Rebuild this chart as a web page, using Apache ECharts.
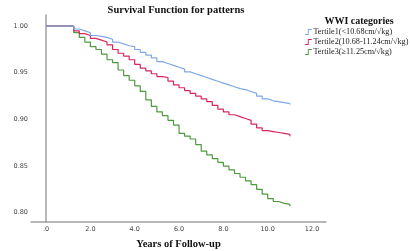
<!DOCTYPE html>
<html><head><meta charset="utf-8">
<script src="https://cdn.jsdelivr.net/npm/echarts@6/dist/echarts.min.js"></script>
<style>html,body{margin:0;padding:0;background:#fff}#c{width:410px;height:251px}</style>
</head><body><div id="c"></div>
<script>
const years = [0,1.00,1.25,1.5,1.75,2.0,2.25,2.5,2.75,3.0,3.25,3.5,3.75,4.0,4.25,4.5,4.75,5.0,5.25,5.5,5.75,6.0,6.25,6.5,6.75,7.0,7.25,7.5,7.75,8.0,8.25,8.5,8.75,9.0,9.25,9.5,9.75,10.0,10.25,10.5,10.75,11.0];
const tertile1 = [1.000,1.000,0.997,0.995,0.993,0.990,0.989,0.988,0.986,0.983,0.981,0.979,0.978,0.975,0.972,0.969,0.966,0.962,0.960,0.958,0.956,0.954,0.951,0.949,0.947,0.945,0.943,0.941,0.939,0.937,0.935,0.933,0.932,0.930,0.928,0.925,0.922,0.920,0.919,0.918,0.917,0.916];
const tertile2 = [1.000,1.000,0.995,0.992,0.990,0.987,0.985,0.983,0.980,0.975,0.971,0.968,0.964,0.959,0.955,0.952,0.949,0.946,0.945,0.941,0.937,0.934,0.931,0.928,0.925,0.922,0.919,0.915,0.911,0.908,0.905,0.903,0.901,0.899,0.895,0.891,0.888,0.887,0.886,0.885,0.884,0.882];
const tertile3 = [1.000,1.000,0.993,0.988,0.983,0.978,0.975,0.970,0.964,0.961,0.953,0.947,0.942,0.936,0.930,0.921,0.914,0.908,0.904,0.899,0.894,0.885,0.882,0.879,0.873,0.866,0.862,0.858,0.854,0.850,0.846,0.842,0.838,0.834,0.830,0.825,0.820,0.815,0.812,0.810,0.809,0.807];
const seriesNames = ['Tertile1(<10.68cm/√kg)','Tertile2(10.68-11.24cm/√kg)','Tertile3(≥11.25cm/√kg)'];
const colors = ['#7eaae3','#d8265c','#4e9a3e'];
const xTicks = [0,2,4,6,8,10,12];
const yTicks = [0.80,0.85,0.90,0.95,1.00];

const chart = echarts.init(document.getElementById('c'), null, {renderer:'canvas'});
const values = [tertile1, tertile2, tertile3];
const stepIcon = 'path://M0,9 L5,9 L5,0 L12,0 L12,1.6 L6.6,1.6 L6.6,10.6 L0,10.6 Z';
chart.setOption({
  animation:false,
  title:[{text:'Survival Function for patterns', left:171, top:0, textAlign:'center',
    textStyle:{fontFamily:'Liberation Serif', fontWeight:'bold', fontSize:10.5, color:'#111'}},
    {text:'WWI categories', left:354, top:11, textAlign:'center',
    textStyle:{fontFamily:'Liberation Serif', fontWeight:'bold', fontSize:10, color:'#111'}}],
  legend:{orient:'vertical', left:305, top:28, itemGap:2, itemWidth:8, itemHeight:6, padding:0,
    icon: stepIcon, data: seriesNames.map((n,i)=>({name:n, icon:stepIcon, itemStyle:{color:colors[i]}})),
    textStyle:{fontFamily:'Liberation Serif', fontSize:8.2, color:'#222', padding:[0,0,0,-4]}},
  grid:{left:31, right:84, top:15, bottom:29, containLabel:false, outerBoundsMode:'none'},
  xAxis:{type:'value', min:-0.68, max:12.63,
    name:'Years of Follow-up', nameLocation:'middle', nameGap:17,
    nameTextStyle:{fontFamily:'Liberation Serif', fontWeight:'bold', fontSize:10.5, color:'#111'},
    axisLine:{lineStyle:{color:'#a0a0a0', width:1.5}},
    axisTick:{show:false}, splitLine:{show:false},
    axisLabel:{customValues:xTicks, fontSize:6.5, color:'#444', margin:4, fontFamily:'DejaVu Sans',
      formatter:v=> v===0 ? '.0' : v.toFixed(1)}},
  yAxis:{type:'value', min:0.79, max:1.012,
    name:'Cum Survival', nameLocation:'middle', nameGap:20, nameRotate:90,
    nameTextStyle:{fontFamily:'Liberation Serif', fontWeight:'bold', fontSize:11, color:'#111'},
    axisLine:{show:true, lineStyle:{color:'#a0a0a0', width:1.5}},
    axisTick:{show:false}, splitLine:{show:false},
    axisLabel:{customValues:yTicks, fontSize:6.5, color:'#444', margin:3, fontFamily:'DejaVu Sans',
      formatter:v=>v.toFixed(2)}},
  series: values.map((vals,i)=>({
    name:seriesNames[i], type:'line', step:'end', showSymbol:false, symbol:'none',
    data: years.map((t,k)=>[t, vals[k]]),
    lineStyle:{color:colors[i], width:1.2}, itemStyle:{color:colors[i]}, z: 3-i
  }))
});
</script></body></html>
